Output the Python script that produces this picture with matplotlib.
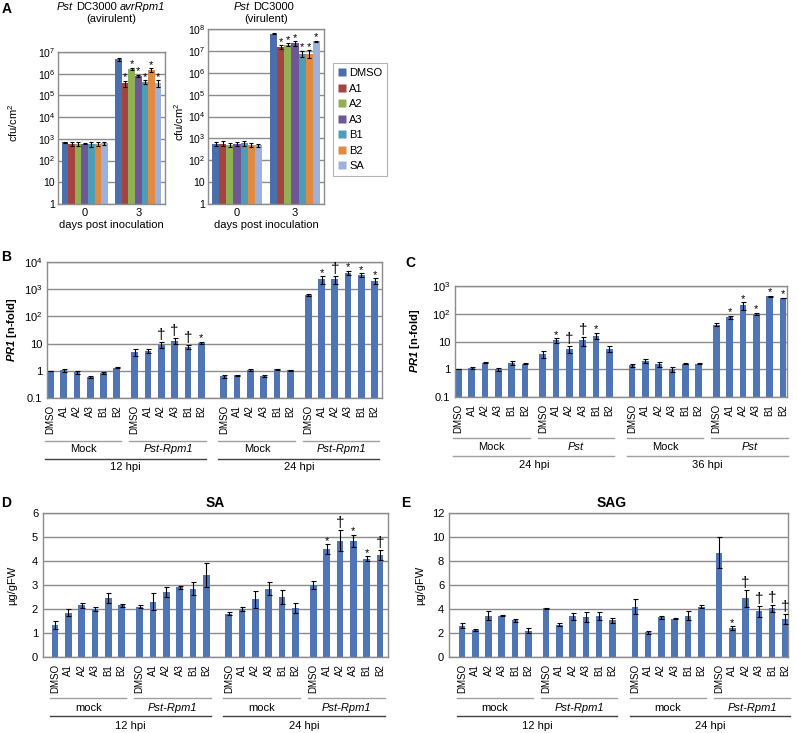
import matplotlib
matplotlib.use('Agg')
import matplotlib.pyplot as plt
import numpy as np
from matplotlib.transforms import blended_transform_factory
from matplotlib.lines import Line2D
from matplotlib.offsetbox import TextArea, HPacker, AnchoredOffsetbox

plt.rcParams['font.family'] = ['Liberation Sans', 'DejaVu Sans']
plt.rcParams['mathtext.fontset'] = 'custom'
plt.rcParams['mathtext.rm'] = 'Liberation Sans'
plt.rcParams['mathtext.it'] = 'Liberation Sans:italic'
plt.rcParams['mathtext.bf'] = 'Liberation Sans:bold'
try:
    plt.rcParams['mathtext.bfit'] = 'Liberation Sans:italic:bold'
except KeyError:
    pass
plt.rcParams['mathtext.default'] = 'regular'

# ---------------- data ----------------
treatments = ['DMSO', 'A1', 'A2', 'A3', 'B1', 'B2', 'SA']
treat_colors = ['#4A6FAB', '#A4433F', '#90B054', '#6E5797', '#4C9DB5', '#E08A42', '#9DB1DC']
days = ['0', '3']

avir_day0 = [700, 580, 580, 590, 550, 580, 620]
avir_day0_err = [50, 120, 110, 40, 130, 110, 80]
avir_day3 = [4.6e6, 3.6e5, 1.7e6, 8.0e5, 4.2e5, 1.45e6, 3.7e5]
avir_day3_err = [8e5, 1.2e5, 2e5, 6e4, 7e4, 3e5, 1.2e5]
avir_day3_marks = ['', '*', '*', '*', '*', '*', '*']

vir_day0 = [580, 580, 500, 540, 600, 510, 500]
vir_day0_err = [120, 150, 100, 110, 130, 100, 80]
vir_day3 = [6.2e7, 1.5e7, 1.9e7, 2.2e7, 7.5e6, 7.5e6, 2.7e7]
vir_day3_err = [3e6, 3e6, 3e6, 5e6, 2.5e6, 3e6, 2e6]
vir_day3_marks = ['', '*', '*', '*', '*', '*', '*']

compounds = ['DMSO', 'A1', 'A2', 'A3', 'B1', 'B2']

# Panel B: PR1, 12 hpi / 24 hpi, Mock / Pst-Rpm1
b_subgroups = ['Mock', 'Pst-Rpm1', 'Mock', 'Pst-Rpm1']
b_times = ['12 hpi', '24 hpi']
b_values = [1.0, 1.05, 0.9, 0.6, 0.85, 1.3,
            4.8, 5.5, 9.0, 13.0, 7.8, 10.5,
            0.62, 0.68, 1.1, 0.65, 1.12, 1.05,
            600, 2300, 2300, 3900, 3300, 2000]
b_errors = [0.0, 0.15, 0.12, 0.05, 0.08, 0.05,
            1.3, 1.0, 2.0, 3.0, 1.3, 0.8,
            0.08, 0.03, 0.08, 0.08, 0.05, 0.04,
            40, 700, 700, 700, 500, 500]
b_marks = ['', '', '', '', '', '',
           '', '', '†', '†', '†', '*',
           '', '', '', '', '', '',
           '', '*', '†', '*', '*', '*']

# Panel C: PR1, 24 hpi / 36 hpi, Mock / Pst
c_subgroups = ['Mock', 'Pst', 'Mock', 'Pst']
c_times = ['24 hpi', '36 hpi']
c_values = [1.0, 1.1, 1.75, 1.0, 1.7, 1.6,
            3.5, 11.0, 5.3, 11.0, 16.0, 5.5,
            1.4, 2.0, 1.5, 1.0, 1.6, 1.6,
            40, 75, 200, 100, 420, 370]
c_errors = [0.0, 0.08, 0.08, 0.15, 0.3, 0.08,
            0.9, 2.0, 1.5, 4.0, 4.0, 1.2,
            0.2, 0.25, 0.3, 0.2, 0.08, 0.08,
            5, 8, 60, 10, 30, 15]
c_marks = ['', '', '', '', '', '',
           '', '*', '†', '†', '*', '',
           '', '', '', '', '', '',
           '', '*', '*', '*', '*', '*']

# Panel D: SA
d_subgroups = ['mock', 'Pst-Rpm1', 'mock', 'Pst-Rpm1']
d_times = ['12 hpi', '24 hpi']
d_values = [1.35, 1.85, 2.15, 2.0, 2.45, 2.15,
            2.1, 2.3, 2.7, 2.9, 2.85, 3.4,
            1.8, 2.0, 2.4, 2.85, 2.5, 2.05,
            3.0, 4.5, 4.85, 4.85, 4.1, 4.25]
d_errors = [0.17, 0.15, 0.1, 0.1, 0.2, 0.05,
            0.07, 0.35, 0.22, 0.05, 0.28, 0.5,
            0.07, 0.08, 0.35, 0.28, 0.3, 0.2,
            0.15, 0.2, 0.45, 0.25, 0.1, 0.2]
d_marks = ['', '', '', '', '', '',
           '', '', '', '', '', '',
           '', '', '', '', '', '',
           '', '*', '†', '*', '*', '†']

# Panel E: SAG
e_subgroups = ['mock', 'Pst-Rpm1', 'mock', 'Pst-Rpm1']
e_times = ['12 hpi', '24 hpi']
e_values = [2.6, 2.25, 3.45, 3.45, 3.05, 2.2,
            4.05, 2.7, 3.4, 3.35, 3.4, 3.05,
            4.2, 2.05, 3.3, 3.2, 3.45, 4.2,
            8.7, 2.4, 4.9, 3.8, 4.05, 3.15]
e_errors = [0.2, 0.05, 0.4, 0.05, 0.15, 0.2,
            0.05, 0.1, 0.3, 0.4, 0.35, 0.2,
            0.65, 0.15, 0.15, 0.05, 0.35, 0.15,
            1.3, 0.15, 0.7, 0.45, 0.3, 0.4]
e_marks = ['', '', '', '', '', '',
           '', '', '', '', '', '',
           '', '', '', '', '', '',
           '', '*', '†', '†', '†', '†']

# ---------------- layout helpers ----------------
W, H = 797, 733
fig = plt.figure(figsize=(W / 100, H / 100), dpi=100)
GRID = '#8C8C8C'
BAR = '#4F75B4'

def axpx(l, t, r, b):
    return fig.add_axes([l / W, 1 - b / H, (r - l) / W, (b - t) / H])

def fx(x):
    return x / W

def fy(y):
    return 1 - y / H

def style_axes(ax, labelsize=8):
    for s in ax.spines.values():
        s.set_color(GRID)
        s.set_linewidth(1.0)
    ax.yaxis.grid(True, color=GRID, linewidth=1.0)
    ax.set_axisbelow(True)
    ax.tick_params(length=0, labelsize=labelsize, colors='black')

def logfmt(k):
    if k == -1:
        return '0.1'
    if k == 0:
        return '1'
    if k == 1:
        return '10'
    return '10$^{%d}$' % k

def mark(ax, x, top, m):
    if not m:
        return
    fs = 11 if m == '†' else 8
    off = 0 if m == '†' else -1
    ax.annotate(m, (x, top), xytext=(0, off), textcoords='offset points',
                ha='center', va='bottom', fontsize=fs)

def mixed_text(x, y, parts, fontsize=8):
    boxes = [TextArea(s, textprops=dict(fontsize=fontsize, style=st)) for s, st in parts]
    pk = HPacker(children=boxes, align='baseline', pad=0, sep=2.2)
    ab = AnchoredOffsetbox(loc='center', child=pk, frameon=False,
                           bbox_to_anchor=(fx(x), fy(y)), bbox_transform=fig.transFigure,
                           pad=0, borderpad=0)
    fig.add_artist(ab)

# ---------------- Panel A ----------------
def panel_a(ax, day0, day0_err, day3, day3_err, marks3, ymax_exp):
    style_axes(ax, labelsize=7.5)
    ax.set_yscale('log')
    ax.set_ylim(1, 10 ** ymax_exp)
    ax.set_xlim(-0.5, 1.5)
    n = len(treatments)
    bw = 0.86 / n
    for i, (t, c) in enumerate(zip(treatments, treat_colors)):
        xs = np.array([0, 1]) + (i - (n - 1) / 2) * bw
        vals = [day0[i], day3[i]]
        errs = [day0_err[i], day3_err[i]]
        ax.bar(xs, vals, width=bw, color=c, edgecolor='none', label=t, zorder=2)
        ax.errorbar(xs, vals, yerr=errs, fmt='none', ecolor='black',
                    elinewidth=0.8, capsize=1.5, capthick=0.8, zorder=3)
        mark(ax, xs[1], day3[i] + day3_err[i], marks3[i])
    ax.set_yticks([10 ** k for k in range(0, ymax_exp + 1)])
    ax.set_yticklabels([logfmt(k) for k in range(0, ymax_exp + 1)])
    ax.yaxis.set_minor_locator(matplotlib.ticker.NullLocator())
    ax.tick_params(axis='y', pad=2)
    ax.set_xticks([0, 1])
    ax.set_xticklabels(days, fontsize=8)
    ax.tick_params(axis='x', pad=3)
    ax.set_xlabel('days post inoculation', fontsize=8, labelpad=1)

axA1 = axpx(58, 52, 165, 204)
panel_a(axA1, avir_day0, avir_day0_err, avir_day3, avir_day3_err, avir_day3_marks, 7)
axA2 = axpx(208, 29, 324, 204)
panel_a(axA2, vir_day0, vir_day0_err, vir_day3, vir_day3_err, vir_day3_marks, 8)

fig.text(fx(13), fy(123), 'cfu/cm$^{2}$', rotation=90, ha='center', va='center', fontsize=8)
fig.text(fx(179), fy(122), 'cfu/cm$^{2}$', rotation=90, ha='center', va='center', fontsize=8)
mixed_text(111, 7, [('Pst', 'italic'), ('DC3000', 'normal'), ('avrRpm1', 'italic')])
fig.text(fx(111), fy(19), '(avirulent)', ha='center', va='center', fontsize=8)
mixed_text(264, 7, [('Pst', 'italic'), ('DC3000', 'normal')])
fig.text(fx(266), fy(19), '(virulent)', ha='center', va='center', fontsize=8)

handles = [Line2D([], [], marker='s', linestyle='none', markersize=5.5,
                  markerfacecolor=c, markeredgecolor='none') for c in treat_colors]
leg = fig.legend(handles, treatments, loc='upper left', bbox_to_anchor=(fx(333), fy(63)),
                 frameon=True, fancybox=False, edgecolor='#A0A0A0', fontsize=8,
                 handlelength=0.7, handletextpad=0.3, labelspacing=0.5, borderpad=0.45,
                 borderaxespad=0)
leg.get_frame().set_linewidth(0.8)

# ---------------- Panels B-E ----------------
offsets = [0, 6.35, 13.05, 19.4]

def group_panel(ax, values, errors, marks, subgroups, times, xlim, log,
                ylim, yticks, yticklabels, sub_y, sub_lab_y, time_y, time_lab_y,
                time_line_color):
    style_axes(ax)
    x = np.concatenate([np.arange(6) + o for o in offsets])
    labels = compounds * 4
    if log:
        ax.set_yscale('log')
    ax.bar(x, values, width=0.5, color=BAR, edgecolor='none', zorder=2)
    ax.errorbar(x, values, yerr=errors, fmt='none', ecolor='black',
                elinewidth=0.8, capsize=1.8, capthick=0.8, zorder=3)
    for xi, v, e, m in zip(x, values, errors, marks):
        mark(ax, xi, v + e, m)
    ax.set_xlim(*xlim)
    ax.set_ylim(*ylim)
    ax.set_yticks(yticks)
    ax.set_yticklabels(yticklabels)
    ax.yaxis.set_minor_locator(matplotlib.ticker.NullLocator())
    ax.set_xticks(x)
    ax.set_xticklabels(labels, rotation=90, fontsize=7)
    ax.tick_params(axis='x', pad=5)
    tr = blended_transform_factory(ax.transData, fig.transFigure)
    for g, o in enumerate(offsets):
        ln = Line2D([o - 0.4, o + 5.35], [fy(sub_y)] * 2, transform=tr,
                    color='#A0A0A0', linewidth=1.0, clip_on=False)
        ax.add_line(ln)
        lab = subgroups[g]
        style = 'italic' if lab.startswith('Pst') else 'normal'
        ax.text(o + 2.5, fy(sub_lab_y), lab, transform=tr, ha='center', va='center',
                fontsize=8, style=style)
    for t in range(2):
        o1, o2 = offsets[2 * t], offsets[2 * t + 1]
        ln = Line2D([o1 - 0.4, o2 + 5.35], [fy(time_y)] * 2, transform=tr,
                    color=time_line_color, linewidth=1.0, clip_on=False)
        ax.add_line(ln)
        ax.text((o1 + o2 + 5) / 2, fy(time_lab_y), times[t], transform=tr,
                ha='center', va='center', fontsize=8)

axB = axpx(47, 262, 382, 398)
group_panel(axB, b_values, b_errors, b_marks, b_subgroups, b_times, (-0.25, 24.95), True,
            (0.1, 1e4), [10.0 ** k for k in range(-1, 5)], [logfmt(k) for k in range(-1, 5)],
            441, 449, 459, 467, '#404040')
fig.text(fx(12), fy(330), r'$\mathbfit{PR1}$ [n-fold]', rotation=90, ha='center',
         va='center', fontsize=8, fontweight='bold')

axC = axpx(455, 286, 787, 397)
group_panel(axC, c_values, c_errors, c_marks, c_subgroups, c_times, (-0.25, 24.7), True,
            (0.1, 1e3), [10.0 ** k for k in range(-1, 4)], [logfmt(k) for k in range(-1, 4)],
            438, 447, 456, 465, '#A0A0A0')
fig.text(fx(415), fy(341), r'$\mathbfit{PR1}$ [n-fold]', rotation=90, ha='center',
         va='center', fontsize=8, fontweight='bold')

axD = axpx(43, 513, 388, 657)
group_panel(axD, d_values, d_errors, d_marks, d_subgroups, d_times, (-0.9, 25.0), False,
            (0, 6), list(range(0, 7)), [str(k) for k in range(0, 7)],
            698, 708, 716, 726, '#404040')
fig.text(fx(12), fy(585), 'µg/gFW', rotation=90, ha='center', va='center', fontsize=8)
fig.text(fx(215), fy(503), 'SA', ha='center', va='center', fontsize=10, fontweight='bold')

axE = axpx(449, 513, 788, 657)
group_panel(axE, e_values, e_errors, e_marks, e_subgroups, e_times, (-0.98, 24.6), False,
            (0, 12), list(range(0, 13, 2)), [str(k) for k in range(0, 13, 2)],
            698, 708, 716, 726, '#404040')
fig.text(fx(420), fy(585), 'µg/gFW', rotation=90, ha='center', va='center', fontsize=8)
fig.text(fx(612), fy(503), 'SAG', ha='center', va='center', fontsize=10, fontweight='bold')

# panel letters
for lab, (px, py) in {'A': (7, 9), 'B': (6, 257), 'C': (410, 263),
                      'D': (6, 503), 'E': (406, 503)}.items():
    fig.text(fx(px), fy(py), lab, ha='center', va='center', fontsize=10, fontweight='bold')

fig.savefig('out.png', dpi=100)
